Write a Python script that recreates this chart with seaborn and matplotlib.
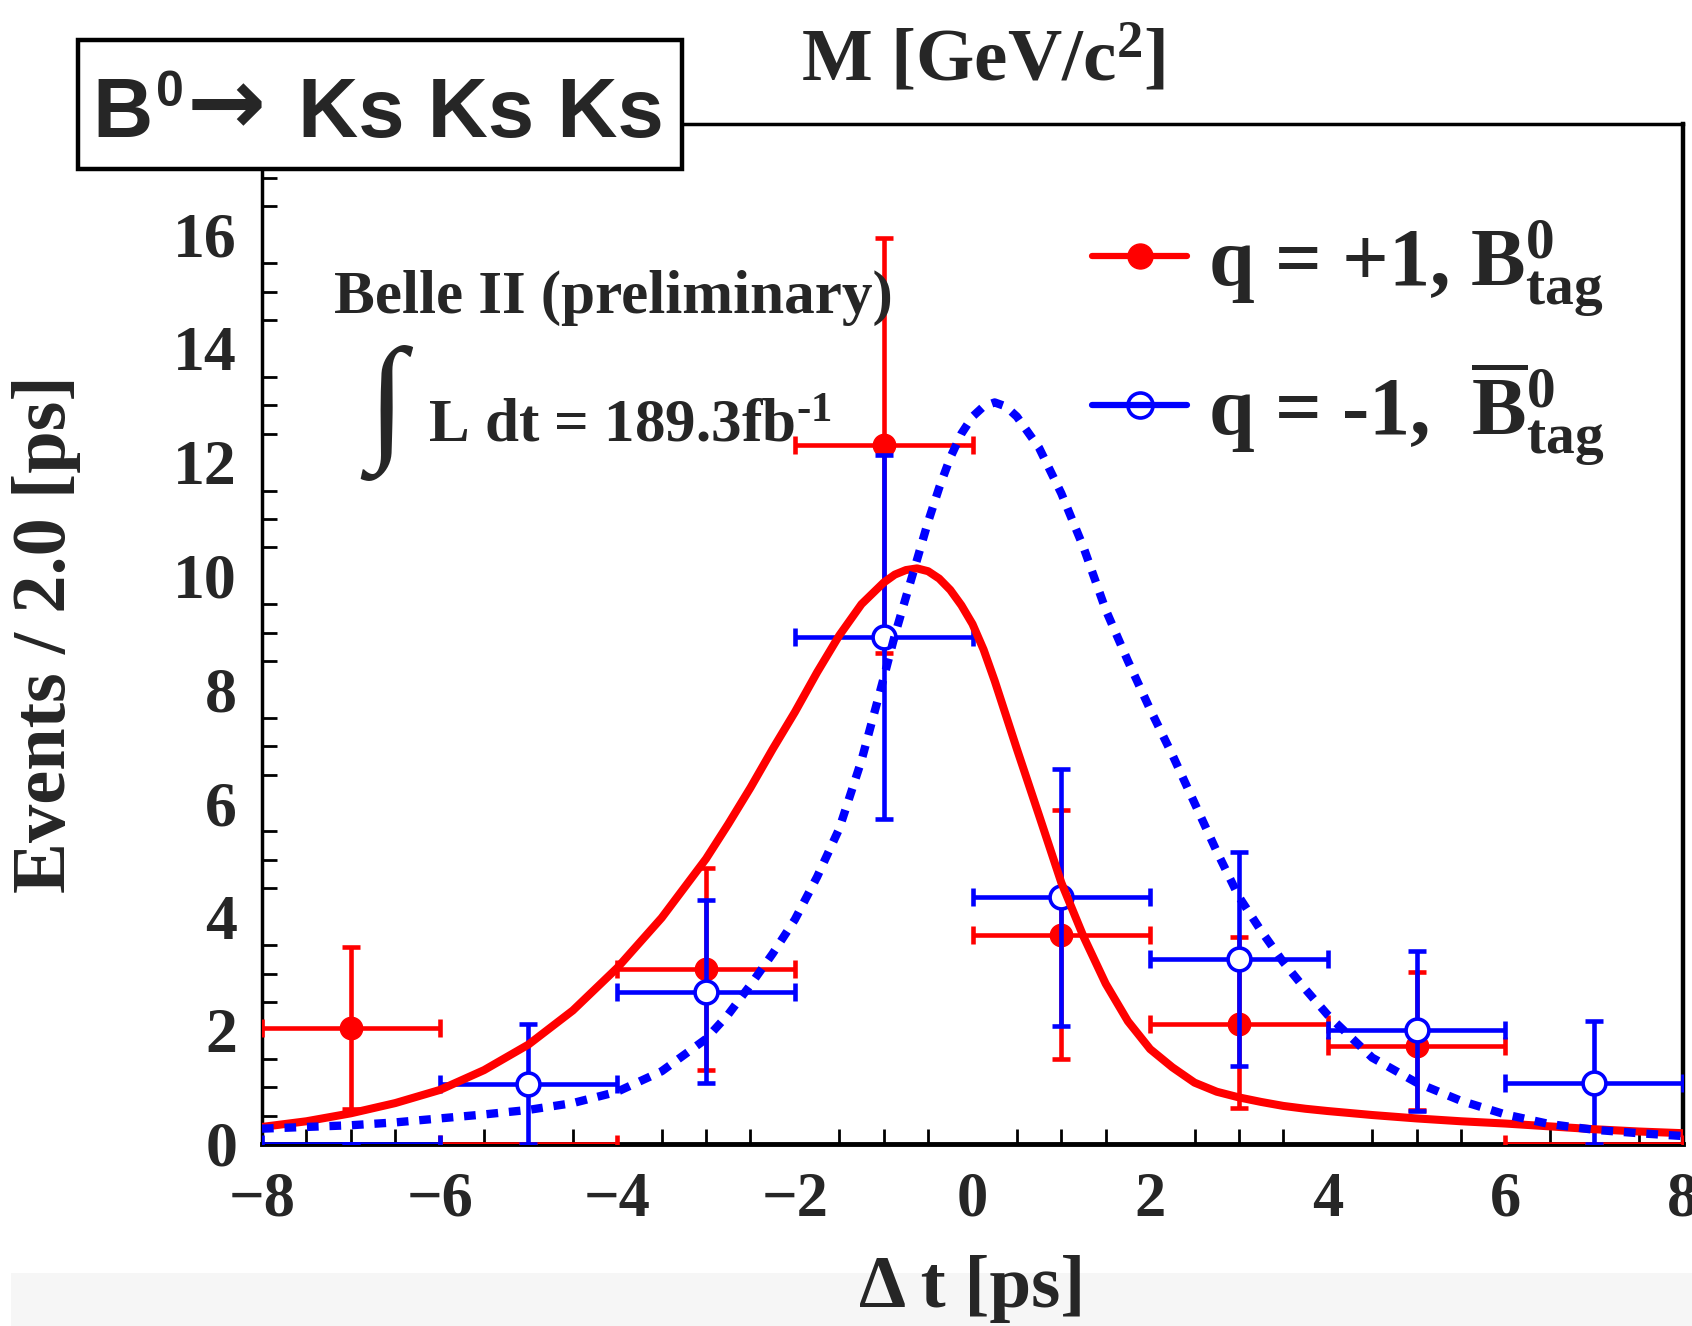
import numpy as np
import pandas as pd
import matplotlib
matplotlib.use("Agg")
import matplotlib.pyplot as plt
import seaborn as sns
from matplotlib.lines import Line2D
from matplotlib.patches import Rectangle
from matplotlib.ticker import MultipleLocator
from matplotlib.font_manager import FontProperties

# ---------------- data ----------------
bin_centers = [-7, -5, -3, -1, 1, 3, 5, 7]
bin_half_width = 1.0

red_y = [2.05, 0.0, 3.08, 12.30, 3.68, 2.12, 1.73, 0.0]
red_hi = [3.46, 0.0, 4.86, 15.95, 5.88, 3.64, 3.02, 0.0]
red_lo = [0.62, 0.0, 1.30, 8.64, 1.50, 0.64, 0.60, 0.0]

blue_y = [0.0, 1.05, 2.68, 8.92, 4.34, 3.25, 2.00, 1.08]
blue_hi = [0.0, 2.11, 4.30, 12.12, 6.60, 5.14, 3.40, 2.17]
blue_lo = [0.0, 0.0, 1.08, 5.72, 2.08, 1.37, 0.58, 0.0]

fit_x = [-8, -7.5, -7, -6.5, -6, -5.5, -5, -4.5, -4, -3.5, -3, -2.75, -2.5, -2.25,
         -2, -1.75, -1.5, -1.25, -1, -0.875, -0.75, -0.625, -0.5, -0.375, -0.25,
         -0.125, 0, 0.125, 0.25, 0.375, 0.5, 0.75, 1, 1.25, 1.5, 1.75, 2, 2.25,
         2.5, 2.75, 3, 3.25, 3.5, 3.75, 4, 4.5, 5, 5.5, 6, 6.5, 7, 7.5, 8]
red_fit = [0.30, 0.40, 0.54, 0.72, 0.95, 1.30, 1.75, 2.35, 3.10, 3.98, 5.02, 5.63, 6.27, 6.95,
           7.60, 8.30, 8.95, 9.50, 9.88, 10.02, 10.10, 10.13, 10.08, 9.95, 9.75,
           9.48, 9.15, 8.70, 8.15, 7.55, 6.95, 5.78, 4.60, 3.65, 2.82, 2.16, 1.67, 1.35,
           1.08, 0.92, 0.82, 0.74, 0.67, 0.62, 0.58, 0.51, 0.45, 0.40, 0.36, 0.31, 0.26, 0.22, 0.19]
blue_fit = [0.27, 0.30, 0.33, 0.38, 0.45, 0.52, 0.60, 0.72, 0.92, 1.28, 1.85, 2.28, 2.80, 3.35,
            3.95, 4.70, 5.55, 6.75, 8.20, 8.95, 9.62, 10.28, 10.95, 11.55, 12.08,
            12.50, 12.80, 12.98, 13.05, 12.98, 12.80, 12.25, 11.45, 10.50, 9.40, 8.50, 7.65, 6.85,
            6.00, 5.15, 4.35, 3.75, 3.20, 2.72, 2.27, 1.52, 1.08, 0.76, 0.52, 0.35, 0.25, 0.19, 0.14]

x_ticks = [-8, -6, -4, -2, 0, 2, 4, 6, 8]
y_ticks = [0, 2, 4, 6, 8, 10, 12, 14, 16]

# ---------------- style ----------------
sns.set_style("white")
plt.rcParams["font.family"] = ["Liberation Serif", "DejaVu Serif"]
plt.rcParams["font.weight"] = "bold"
plt.rcParams["axes.labelweight"] = "bold"
plt.rcParams["mathtext.fontset"] = "custom"
plt.rcParams["mathtext.rm"] = "Liberation Serif:bold"
plt.rcParams["mathtext.bf"] = "Liberation Serif:bold"
plt.rcParams["mathtext.it"] = "Liberation Serif:italic:bold"
plt.rcParams["mathtext.sf"] = "Liberation Sans:bold"
plt.rcParams["mathtext.default"] = "bf"

W, H = 1692, 1326


def fx(px):
    return px / W


def fy(py):
    return 1 - py / H


fig = plt.figure(figsize=(W / 100, H / 100), dpi=100)
fig.patch.set_facecolor("white")

ax_l, ax_r, ax_t, ax_b = 262, 1683, 124, 1144
ax = fig.add_axes([fx(ax_l), fy(ax_b), (ax_r - ax_l) / W, (ax_b - ax_t) / H])
ax.set_facecolor("white")

RED = "#ff0000"
BLUE = "#0000ff"

# data points: error bars
bx = np.array(bin_centers, dtype=float)
ry, rh, rl = map(np.array, (red_y, red_hi, red_lo))
by, bh, bl = map(np.array, (blue_y, blue_hi, blue_lo))

ax.errorbar(bx, ry, yerr=[ry - rl, rh - ry], xerr=bin_half_width, fmt="none",
            ecolor=RED, elinewidth=3.3, capsize=6.5, capthick=3.3, zorder=3)
ax.errorbar(bx, by, yerr=[by - bl, bh - by], xerr=bin_half_width, fmt="none",
            ecolor=BLUE, elinewidth=3.3, capsize=6.5, capthick=3.3, zorder=4)

pts = pd.DataFrame({"x": bx, "red": ry, "blue": by})
red_pts = pts[pts["red"] > 0]
blue_pts = pts[pts["blue"] > 0]
sns.scatterplot(data=red_pts, x="x", y="red", ax=ax, color=RED, s=260,
                edgecolor=RED, linewidth=1, zorder=3.5, legend=False)
sns.scatterplot(data=blue_pts, x="x", y="blue", ax=ax, facecolor="white", s=270,
                edgecolor=BLUE, linewidth=2.6, zorder=4.5, legend=False)

# fit curves
fit = pd.DataFrame({"x": fit_x, "red": red_fit, "blue": blue_fit})
sns.lineplot(data=fit, x="x", y="red", ax=ax, color=RED, linewidth=5.8, zorder=5)
sns.lineplot(data=fit, x="x", y="blue", ax=ax, color=BLUE, linewidth=6.0,
             linestyle=(0, (1.4, 1.3)), zorder=5)

# axes
ax.set_xlim(-8, 8)
ax.set_ylim(0, 17.95)
ax.set_xticks(x_ticks)
ax.set_yticks(y_ticks)
ax.xaxis.set_minor_locator(MultipleLocator(0.5))
ax.yaxis.set_minor_locator(MultipleLocator(0.5))
ax.tick_params(axis="both", which="major", direction="in", length=21, width=2,
               color="black", top=False, right=False)
ax.tick_params(axis="both", which="minor", direction="in", length=10.5, width=2,
               color="black", top=False, right=False, bottom=True, left=True)
ax.tick_params(axis="x", which="major", labelsize=45, pad=20)
ax.tick_params(axis="y", which="major", labelsize=46, pad=18)
for lab in ax.get_xticklabels() + ax.get_yticklabels():
    lab.set_fontweight("bold")

for side, lw in (("left", 2.5), ("top", 2.5), ("right", 3.2), ("bottom", 3.5)):
    ax.spines[side].set_visible(True)
    ax.spines[side].set_linewidth(lw)
    ax.spines[side].set_color("black")

ax.set_xlabel("Δ t [ps]", fontsize=54, fontweight="bold")
ax.xaxis.set_label_coords(0.5, (ax_b - 1255) / (ax_b - ax_t))
ax.set_ylabel("Events / 2.0 [ps]", fontsize=55, fontweight="bold")
ax.yaxis.set_label_coords((81 - ax_l) / (ax_r - ax_l), 0.5)

# legend
handles = [
    Line2D([], [], color=RED, lw=4.5, marker="o", ms=18, mfc=RED, mec=RED),
    Line2D([], [], color=BLUE, lw=4.5, marker="o", ms=18, mfc="none", mec=BLUE, mew=2.6),
]
labels = [r"q = +1, $\mathbf{B}^{0}_{tag}$", r"q = -1,  $\overline{\mathbf{B}}^{0}_{tag}$"]
ax.legend(handles, labels, loc="upper left", bbox_to_anchor=(fx(1092), fy(218)),
          bbox_transform=fig.transFigure, frameon=False,
          prop=FontProperties(family="Liberation Serif", weight="bold", size=59),
          handlelength=1.16, handletextpad=0.25, labelspacing=0.50,
          borderpad=0, borderaxespad=0)

# Belle II annotation
fig.text(fx(334), fy(313), "Belle II (preliminary)", fontsize=44,
         fontweight="bold", ha="left", va="baseline")
fig.text(fx(386), fy(413), "∫", fontsize=100, ha="center", va="center",
         family=["Liberation Serif", "DejaVu Serif"])
fig.text(fx(428), fy(442), r"L dt = 189.3fb$^{\text{-1}}$", fontsize=44,
         fontweight="bold", ha="left", va="baseline")

# top-left decay box
fig.add_artist(Rectangle((fx(78), fy(169)), 604 / W, 129 / H,
                         transform=fig.transFigure, facecolor="white",
                         edgecolor="black", linewidth=3.2, zorder=6))
box_font = ["Liberation Sans", "DejaVu Sans"]
fig.text(fx(92), fy(137), "B", fontsize=60, fontweight="bold", family=box_font,
         ha="left", va="baseline", zorder=7)
fig.text(fx(156), fy(106), "0", fontsize=36, fontweight="bold", family=box_font,
         ha="left", va="baseline", zorder=7)
fig.text(fx(226), fy(108), "→", fontsize=68, fontweight="bold", family="DejaVu Sans",
         ha="center", va="center", zorder=7)
fig.text(fx(298), fy(137), "Ks Ks Ks", fontsize=60, fontweight="bold", family=box_font,
         ha="left", va="baseline", zorder=7)

# cropped title remnant at top
fig.text(fx(983), fy(81), r"M [GeV/c$^{2}$]", fontsize=54,
         fontweight="bold", ha="center", va="baseline")

# light grey strip at bottom
fig.add_artist(Rectangle((fx(11), 0), 1, (H - 1273) / H, transform=fig.transFigure,
                         facecolor="#f6f6f6", edgecolor="none", zorder=-1))

fig.savefig("out.png", dpi=100)
